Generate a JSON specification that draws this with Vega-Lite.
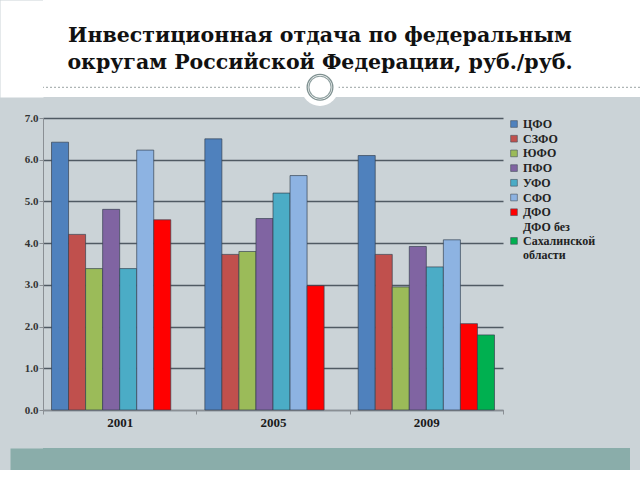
{
  "$schema": "https://vega.github.io/schema/vega-lite/v6.json",
  "background": "#CBD3D7",
  "padding": 0,
  "spacing": 6,
  "center": false,
  "resolve": {"scale": {"color": "independent"}, "legend": {"color": "independent"}},
  "config": {"view": {"stroke": null}, "font": "Liberation Serif"},
  "vconcat": [
    {
      "width": 597,
      "height": 97,
      "view": {"fill": "white", "stroke": null},
      "data": {"values": [{}]},
      "title": {
        "text": ["Инвестиционная отдача по федеральным", "округам Российской Федерации, руб./руб."],
        "orient": "top",
        "anchor": "middle",
        "frame": "group",
        "offset": -73,
        "dx": -21.5,
        "fontSize": 20.5,
        "font": "DejaVu Serif",
        "fontWeight": "bold",
        "color": "#111111",
        "lineHeight": 27
      },
      "layer": [
        {
          "mark": {"type": "rule", "strokeDash": [2, 2], "color": "#9aa3a3", "strokeWidth": 1},
          "encoding": {
            "y": {
              "datum": 0.1,
              "type": "quantitative",
              "scale": {"domain": [0, 1]},
              "axis": {
                "orient": "left",
                "title": null,
                "labels": false,
                "ticks": false,
                "grid": false,
                "minExtent": 0,
                "domainColor": "white",
                "domainWidth": 43,
                "offset": 21.5
              }
            }
          }
        },
        {
          "mark": {"type": "point", "filled": true, "color": "white", "size": 1385, "opacity": 1},
          "encoding": {
            "x": {"datum": 0.464, "type": "quantitative", "scale": {"domain": [0, 1]}, "axis": null},
            "y": {"datum": 0.1, "type": "quantitative"}
          }
        },
        {
          "mark": {"type": "point", "filled": false, "color": "#7f9191", "size": 660, "strokeWidth": 1.3, "opacity": 1},
          "encoding": {
            "x": {"datum": 0.464, "type": "quantitative"},
            "y": {"datum": 0.1, "type": "quantitative"}
          }
        },
        {
          "mark": {"type": "point", "filled": false, "color": "#8fa0a0", "size": 490, "strokeWidth": 1.1, "opacity": 1},
          "encoding": {
            "x": {"datum": 0.464, "type": "quantitative"},
            "y": {"datum": 0.1, "type": "quantitative"}
          }
        }
      ]
    },
    {
      "width": 460,
      "height": 292,
      "data": {
        "values": [
          {"year": "2001", "region": "ЦФО", "value": 6.42},
          {"year": "2001", "region": "СЗФО", "value": 4.21},
          {"year": "2001", "region": "ЮФО", "value": 3.39},
          {"year": "2001", "region": "ПФО", "value": 4.81},
          {"year": "2001", "region": "УФО", "value": 3.39},
          {"year": "2001", "region": "СФО", "value": 6.23},
          {"year": "2001", "region": "ДФО", "value": 4.56},
          {"year": "2005", "region": "ЦФО", "value": 6.5},
          {"year": "2005", "region": "СЗФО", "value": 3.73},
          {"year": "2005", "region": "ЮФО", "value": 3.8},
          {"year": "2005", "region": "ПФО", "value": 4.59},
          {"year": "2005", "region": "УФО", "value": 5.2},
          {"year": "2005", "region": "СФО", "value": 5.62},
          {"year": "2005", "region": "ДФО", "value": 2.98},
          {"year": "2009", "region": "ЦФО", "value": 6.1},
          {"year": "2009", "region": "СЗФО", "value": 3.73},
          {"year": "2009", "region": "ЮФО", "value": 2.95},
          {"year": "2009", "region": "ПФО", "value": 3.92},
          {"year": "2009", "region": "УФО", "value": 3.43},
          {"year": "2009", "region": "СФО", "value": 4.08},
          {"year": "2009", "region": "ДФО", "value": 2.07},
          {"year": "2009", "region": "ДФО без Сахалинской области", "value": 1.8}
        ]
      },
      "mark": {"type": "bar", "stroke": "#34404f", "strokeWidth": 0.8, "strokeOpacity": 0.85},
      "encoding": {
        "x": {
          "field": "year",
          "type": "nominal",
          "scale": {"paddingInner": 0, "paddingOuter": 0},
          "axis": {
            "title": null,
            "labelAngle": 0,
            "tickBand": "extent",
            "labelFont": "Liberation Serif",
            "labelFontSize": 13,
            "labelFontWeight": "bold",
            "labelColor": "#1a1a1a",
            "labelPadding": 2,
            "domainColor": "#8a8f94",
            "tickColor": "#8a8f94",
            "tickSize": 4
          }
        },
        "xOffset": {
          "field": "region",
          "type": "nominal",
          "sort": ["ЦФО", "СЗФО", "ЮФО", "ПФО", "УФО", "СФО", "ДФО", "ДФО без Сахалинской области"],
          "scale": {"paddingInner": 0, "paddingOuter": 0.5}
        },
        "y": {
          "field": "value",
          "type": "quantitative",
          "scale": {"domain": [0, 7]},
          "axis": {
            "title": null,
            "values": [0, 1, 2, 3, 4, 5, 6, 7],
            "format": ".1f",
            "grid": true,
            "gridColor": "#505a63",
            "gridWidth": 1.3,
            "domainColor": "#8a8f94",
            "tickColor": "#8a8f94",
            "tickSize": 4,
            "labelPadding": 1,
            "minExtent": 43,
            "labelFont": "Liberation Serif",
            "labelFontSize": 11,
            "labelFontWeight": "bold",
            "labelColor": "#333333"
          }
        },
        "color": {
          "field": "region",
          "type": "nominal",
          "scale": {
            "domain": ["ЦФО", "СЗФО", "ЮФО", "ПФО", "УФО", "СФО", "ДФО", "ДФО без Сахалинской области"],
            "range": ["#4F81BD", "#C0504D", "#9BBB59", "#8064A2", "#4BACC6", "#8DB3E2", "#FF0000", "#00B050"]
          },
          "legend": {
            "title": null,
            "orient": "right",
            "offset": 5,
            "padding": 0,
            "symbolType": "square",
            "symbolSize": 45,
            "symbolStrokeWidth": 0.6,
            "symbolStrokeColor": "#44505c",
            "labelFont": "Liberation Serif",
            "labelFontSize": 12,
            "labelFontWeight": "bold",
            "labelColor": "#222222",
            "labelOffset": 3,
            "rowPadding": 2.7,
            "labelLimit": 200,
            "labelExpr": "datum.label == 'ДФО без Сахалинской области' ? ['ДФО без', 'Сахалинской', 'области'] : datum.label",
            "encode": {
              "labels": {
                "update": {
                  "dy": {"signal": "datum.value == 'ДФО без Сахалинской области' ? -14 : 0"}
                }
              }
            }
          }
        }
      }
    },
    {
      "width": 587,
      "height": 22,
      "view": {"fill": "#8AADAA", "stroke": null},
      "data": {"values": []},
      "mark": {"type": "rule", "opacity": 0},
      "encoding": {
        "x": {
          "datum": 0,
          "type": "quantitative",
          "scale": {"domain": [0, 1]},
          "axis": {
            "orient": "top",
            "title": null,
            "labels": false,
            "ticks": false,
            "grid": false,
            "minExtent": 0,
            "domainColor": "#CBD3D7",
            "domainOpacity": 0,
            "domainWidth": 1,
            "offset": 13
          }
        },
        "y": {
          "datum": 0,
          "type": "quantitative",
          "scale": {"domain": [0, 1]},
          "axis": {
            "orient": "left",
            "title": null,
            "labels": false,
            "ticks": false,
            "grid": false,
            "minExtent": 0,
            "domainColor": "#8AADAA",
            "domainWidth": 33,
            "offset": 16.5
          }
        }
      }
    }
  ]
}
